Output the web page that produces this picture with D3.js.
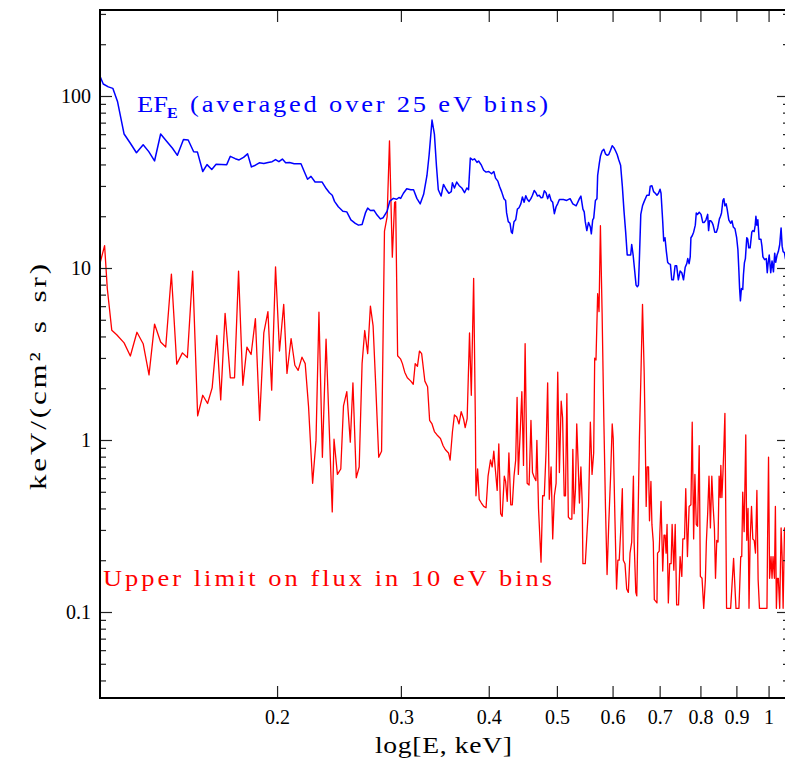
<!DOCTYPE html>
<html><head><meta charset="utf-8">
<script src="https://cdn.jsdelivr.net/npm/d3@7"></script>
<style>body{margin:0;background:#fff}svg{display:block}</style>
</head><body>
<svg id="c" width="785" height="764"></svg>
<script>
// ---- data (energies in eV, fluxes in keV/(cm^2 s sr)) ----
const blueEnergyEV = [112.0,113.2,115.1,116.8,118.6,121.2,123.7,126.2,129.0,131.4,133.9,136.6,139.3,142.0,144.3,147.2,149.5,152.2,154.1,156.8,159.0,161.5,163.8,169.6,171.6,174.4,176.6,179.2,181.6,183.9,186.3,188.7,191.5,194.2,196.8,199.0,201.2,203.5,205.7,208.4,211.5,216.3,218.6,221.0,223.5,226.5,229.7,231.8,234.3,237.4,239.6,241.4,244.4,248.1,251.3,254.7,258.4,261.1,264.2,267.1,269.1,271.5,274.6,277.5,280.6,283.1,286.8,289.3,292.7,295.9,298.1,299.8,302.5,305.8,309.9,312.7,316.1,319.6,323.2,326.7,329.1,332.2,334.8,337.0,339.1,342.2,344.9,347.9,351.0,353.8,355.1,357.5,360.2,362.9,366.2,369.5,372.3,374.4,376.6,379.4,381.9,384.9,386.9,390.5,393.4,396.5,400.0,403.7,406.7,409.0,412.1,414.3,417.2,420.4,422.7,424.1,426.4,428.9,430.7,432.1,434.5,436.9,439.3,441.7,444.3,446.6,449.1,451.6,454.0,456.5,459.2,461.6,464.2,466.8,469.3,471.9,474.7,477.2,479.8,482.5,485.1,487.8,490.6,493.2,495.9,498.7,501.4,504.1,510.8,516.3,522.1,526.8,532.6,538.3,540.9,544.5,546.8,548.7,551.5,554.6,557.9,559.7,562.2,564.1,567.2,570.1,571.4,574.5,576.6,579.8,583.0,586.2,589.3,592.5,596.0,599.3,602.6,606.0,609.1,612.4,616.0,619.5,622.9,626.3,629.5,636.7,638.8,641.8,645.1,648.0,650.7,653.0,655.1,658.1,661.8,665.5,671.3,676.3,678.8,682.5,686.3,690.1,693.9,697.4,700.9,703.2,707.1,709.4,712.4,715.6,718.6,721.1,725.1,728.3,732.3,736.3,740.1,744.2,748.5,752.7,756.9,761.1,765.0,767.5,770.9,773.7,775.5,778.8,782.4,786.7,789.2,792.6,796.8,801.6,806.1,810.2,814.7,819.2,821.7,824.4,827.5,831.2,834.0,838.5,843.1,846.7,851.3,854.4,857.2,861.1,863.9,866.8,870.4,873.2,877.9,883.2,887.2,891.0,895.9,900.8,904.5,907.4,909.5,911.9,914.9,918.9,921.0,923.9,926.9,931.1,934.1,937.1,941.4,946.6,949.7,954.1,957.2,959.4,962.4,965.5,969.5,975.3,978.5,981.7,987.1,992.5,995.7,998.9,1002.1,1007.1,1011.4,1016.1,1020.3,1023.6,1028.2,1032.5,1037.2,1041.9,1045.4,1048.8,1053.2,1056.9,1059.3];
const blueFlux = [130,117.4,113.0,110.8,93.0,60.1,53.1,46.8,52.1,47.5,41.9,60.1,54.6,49.7,45.2,55.9,55.5,47.4,47.2,36.4,39.9,37.4,40.1,39.9,44.6,43.2,42.5,44.0,46.1,38.7,39.6,40.9,40.5,41.0,41.5,42.7,41.5,43.0,40.9,41.1,40.4,40.4,36.4,32.8,34.1,31.6,31.6,31.6,29.4,27.4,26.5,24.4,22.7,21.4,21.2,19.06,18.19,17.75,17.92,20.9,22.3,21.6,21.7,20.3,19.3,19.6,21.4,24.5,25.4,25.1,25.7,25.4,27.2,28.9,28.5,28.5,25.4,23.6,26.8,34.4,45.7,72.5,60.1,39.6,28.5,26.2,30.6,28.7,27.2,27.8,31.3,29.2,31.6,30.2,29.2,27.4,29.2,28.5,43.6,42.5,43.1,41.1,41.9,39.6,37.0,36.1,36.4,35.3,36.4,33.3,32.0,29.9,27.8,25.3,24.7,20.9,18.6,18.19,16.16,15.9,18.6,19.06,22.0,22.4,23.6,25.9,24.1,26.3,25.0,24.4,25.3,26.5,28.2,27.4,26.2,26.5,25.6,25.7,28.1,27.4,25.3,26.8,24.7,24.1,20.7,22.7,23.7,25.0,25.0,24.7,25.3,23.6,23.0,25.3,26.2,22.0,21.2,18.6,16.5,18.4,17.3,15.8,19.06,19.5,24.7,25.3,34.5,40.6,44.6,47.9,49.0,46.1,45.2,45.7,48.4,51.4,50.1,47.9,45.7,42.5,39.6,29.9,21.4,16.16,11.9,11.9,13.7,11.9,9.6,7.95,7.78,7.95,11.34,20.5,23.0,24.4,26.5,26.5,29.9,30.1,27.8,27.2,26.5,27.2,28.7,27.2,18.6,14.36,15.0,12.46,10.8,10.6,10.5,8.54,8.54,10.3,10.3,8.54,9.6,9.38,8.54,10.1,10.6,11.34,10.6,11.6,15.0,15.4,16.16,17.75,20.9,20.5,21.1,20.5,18.4,18.4,19.06,20.5,16.5,18.8,18.8,18.4,17.75,16.16,16.16,17.1,19.3,20.0,20.9,24.7,25.3,23.0,23.6,22.0,19.06,18.2,18.8,17.3,16.9,15.0,12.76,9.6,7.6,6.44,7.6,7.5,9.1,10.7,11.34,15.0,14.7,13.1,13.1,16.16,16.5,16.3,17.75,20.0,17.75,19.06,14.7,14.7,13.4,11.6,11.18,11.34,9.38,10.8,11.9,9.38,11.0,9.5,12.2,10.8,11.9,12.46,13.7,17.1,13.4,12.46,12.3,11.3,15.0];
const redEnergyEV = [112.0,113.7,114.7,116.4,118.3,121.2,123.7,126.4,129.0,131.5,133.9,136.6,138.9,141.5,144.0,146.7,149.1,151.7,154.2,156.8,159.3,161.7,164.2,166.3,168.7,171.6,174.0,176.3,178.8,181.2,183.7,186.3,188.9,191.5,194.1,196.5,199.0,201.6,204.4,206.6,209.4,212.0,214.3,217.0,219.3,221.7,224.7,227.2,229.4,232.0,234.8,239.6,241.0,243.7,246.4,248.6,251.3,254.2,256.4,259.2,261.7,264.2,266.5,269.1,271.5,273.9,276.1,279.0,281.6,284.3,286.8,289.0,291.7,293.9,294.9,296.8,299.8,301.5,303.8,306.4,309.9,312.4,314.4,316.7,318.8,321.1,324.5,327.4,329.6,332.2,334.8,337.7,341.5,344.5,346.9,350.6,352.5,355.2,357.5,360.2,362.9,365.5,368.3,370.3,372.7,375.6,377.8,380.7,382.8,383.6,385.7,387.7,390.5,393.5,396.5,399.1,402.3,404.5,406.7,408.9,411.2,413.4,415.9,418.0,420.9,422.7,425.0,427.3,429.9,432.1,434.5,436.9,438.9,440.7,443.7,445.8,448.2,450.6,453.6,456.5,459.3,461.6,464.2,466.8,468.3,470.8,474.7,477.2,479.8,482.5,485.1,487.7,490.6,493.2,495.9,498.7,501.4,504.1,507.1,509.4,512.1,514.3,516.6,519.1,522.1,525.1,526.8,529.0,531.4,533.6,536.5,538.3,540.9,543.2,544.5,548.7,551.6,554.6,557.9,561.0,564.0,565.9,568.3,571.4,574.0,576.6,579.8,583.0,586.2,589.3,592.5,596.0,599.3,601.3,604.6,607.9,610.5,613.2,616.1,619.5,621.5,624.9,628.4,631.8,635.3,638.8,642.4,643.9,647.4,649.5,652.2,655.1,658.1,661.8,665.5,667.7,669.8,672.0,675.0,677.1,680.3,682.5,685.6,687.9,691.7,693.9,695.2,699.0,703.2,707.1,710.1,712.6,714.9,717.2,720.2,723.4,726.8,729.2,733.3,736.6,740.1,744.7,748.5,752.7,755.2,759.4,762.5,766.7,770.9,775.5,778.8,782.4,785.7,789.2,792.6,796.8,799.8,804.2,808.7,813.1,815.7,819.2,822.8,826.6,830.4,834.0,837.5,840.5,844.0,847.5,850.5,853.6,855.3,858.3,861.1,864.0,866.8,868.7,871.5,883.2,888.1,891.8,894.7,898.8,907.5,912.9,915.9,918.9,923.1,928.1,931.1,935.0,938.0,941.4,945.7,949.7,954.1,958.1,962.5,966.4,970.7,994.8,996.7,999.9,1003.4,1008.1,1011.4,1014.7,1019.4,1022.6,1025.9,1029.2,1032.5,1037.2,1041.9,1045.4,1048.8,1053.6,1056.9];
const redFlux = [10.65,13.5,7.62,4.35,4.09,3.67,3.08,4.23,3.63,2.39,4.72,3.71,3.47,9.22,2.76,3.21,3.02,9.59,1.38,1.82,1.63,2.01,4.05,1.71,5.45,2.30,2.30,9.59,2.08,3.47,3.14,5.08,1.30,4.19,5.58,1.95,10.16,3.29,6.15,2.44,3.89,2.72,2.54,3.03,2.78,1.57,0.560,0.995,5.53,0.794,3.86,0.382,1.01,0.631,0.678,1.58,1.91,0.972,2.15,0.603,0.697,2.78,4.33,3.18,6.00,4.61,2.20,0.794,0.861,16.4,19.9,54.9,11.56,24.0,24.3,3.09,2.95,2.78,2.48,2.30,2.20,2.11,2.78,2.68,3.29,3.18,2.20,2.04,1.30,1.24,1.12,1.07,1.02,0.926,0.880,0.841,0.765,1.12,1.40,1.36,1.24,1.46,1.33,1.18,1.33,4.19,1.82,8.71,1.36,0.474,0.679,0.452,0.430,0.411,0.404,0.616,0.765,0.697,0.861,0.663,0.509,0.949,0.373,0.360,0.616,0.574,0.440,0.841,0.420,0.420,0.616,0.765,1.77,0.631,1.18,1.91,0.712,3.63,0.560,0.547,1.30,0.647,0.607,0.580,0.995,0.400,0.195,0.474,0.474,0.841,2.15,0.452,0.697,0.266,0.474,0.560,2.48,0.647,1.68,1.35,0.474,0.474,1.86,0.356,0.347,0.347,0.883,0.373,0.521,1.24,0.663,0.430,0.697,0.430,0.191,0.191,0.280,0.411,1.27,0.631,0.841,2.99,2.92,7.09,5.58,17.6,5.45,1.36,0.411,0.165,0.323,0.602,1.24,1.02,0.356,0.136,0.200,0.200,0.293,0.521,0.200,0.191,0.136,0.130,0.220,0.255,0.616,0.255,0.130,0.124,0.339,1.02,2.20,6.15,2.42,1.07,0.411,0.697,0.697,0.339,0.574,0.323,0.255,0.118,0.115,0.113,0.220,0.226,0.440,0.173,0.280,0.280,0.220,0.323,0.113,0.191,0.191,0.323,0.175,0.323,0.110,0.110,0.210,0.161,0.266,0.266,0.521,0.210,0.411,0.420,1.27,0.266,0.631,0.323,0.315,0.926,0.161,0.157,0.105,0.154,0.255,0.373,0.616,0.308,0.616,0.411,0.308,0.157,0.261,0.255,0.616,0.463,0.712,0.463,0.631,0.926,1.43,0.521,0.105,0.105,0.154,0.205,0.154,0.105,0.105,0.210,0.210,0.498,0.293,1.07,0.261,0.400,0.105,0.261,0.411,0.266,0.261,0.220,0.509,0.154,0.105,0.105,0.255,0.794,0.157,0.210,0.157,0.210,0.157,0.411,0.105,0.157,0.157,0.105,0.308,0.210,0.105,0.308,0.293];
const xTicks = [0.2,0.3,0.4,0.5,0.6,0.7,0.8,0.9,1];
const xTickLabels = ["0.2","0.3","0.4","0.5","0.6","0.7","0.8","0.9","1"];
const yTicks = [0.1,1,10,100];
const yTickLabels = ["0.1","1","10","100"];
const yMinorTicks = [0.04,0.05,0.06,0.07,0.08,0.09,0.2,0.3,0.4,0.5,0.6,0.7,0.8,0.9,2,3,4,5,6,7,8,9,20,30,40,50,60,70,80,90,200,300];
const xDomain = [0.1120,1.0692];
const yDomain = [0.031623,316.23];

// ---- drawing ----
const M = {left:100,right:789,top:10,bottom:698};
const FONT = "'Liberation Serif', 'DejaVu Serif', serif";
const svg = d3.select("#c");
const x = d3.scaleLog().domain(xDomain).range([M.left,M.right]);
const y = d3.scaleLog().domain(yDomain).range([M.bottom,M.top]);

svg.append("defs").append("clipPath").attr("id","clip")
  .append("rect").attr("x",M.left).attr("y",M.top)
  .attr("width",M.right-M.left).attr("height",M.bottom-M.top);

const blue = blueEnergyEV.map((e,i)=>({E:e/1000,F:blueFlux[i]}));
const red = redEnergyEV.map((e,i)=>({E:e/1000,F:redFlux[i]}));
const line = d3.line().x(d=>x(d.E)).y(d=>y(d.F));
const plot = svg.append("g").attr("clip-path","url(#clip)");
plot.append("path").datum(red).attr("d",line).attr("fill","none")
  .attr("stroke","#ff0000").attr("stroke-width",1.3).attr("stroke-linejoin","round");
plot.append("path").datum(blue).attr("d",line).attr("fill","none")
  .attr("stroke","#0000ff").attr("stroke-width",1.5).attr("stroke-linejoin","round");

function styleAxis(g){
  g.select(".domain").remove();
  g.selectAll(".tick line").attr("stroke","#222").attr("stroke-width",1.2);
  g.selectAll(".tick text").attr("font-family",FONT).attr("font-size",20).attr("fill","#000");
}
svg.append("g").attr("transform",`translate(0,${M.bottom})`)
  .call(d3.axisBottom(x).tickValues(xTicks).tickFormat((d,i)=>xTickLabels[i]).tickSizeInner(-12).tickSizeOuter(0).tickPadding(12))
  .call(styleAxis);
svg.append("g").attr("transform",`translate(0,${M.top})`)
  .call(d3.axisTop(x).tickValues(xTicks).tickFormat("").tickSizeInner(-12).tickSizeOuter(0))
  .call(styleAxis);
svg.append("g").attr("transform",`translate(${M.left},0)`)
  .call(d3.axisLeft(y).tickValues(yTicks).tickFormat((d,i)=>yTickLabels[i]).tickSizeInner(-12).tickSizeOuter(0).tickPadding(9))
  .call(styleAxis);
svg.append("g").attr("transform",`translate(${M.left},0)`)
  .call(d3.axisLeft(y).tickValues(yMinorTicks).tickFormat("").tickSizeInner(-6).tickSizeOuter(0))
  .call(styleAxis);
svg.append("g").attr("transform",`translate(${M.right},0)`)
  .call(d3.axisRight(y).tickValues(yTicks).tickFormat("").tickSizeInner(-12).tickSizeOuter(0))
  .call(styleAxis);
svg.append("g").attr("transform",`translate(${M.right},0)`)
  .call(d3.axisRight(y).tickValues(yMinorTicks).tickFormat("").tickSizeInner(-6).tickSizeOuter(0))
  .call(styleAxis);

svg.append("rect").attr("x",M.left).attr("y",M.top)
  .attr("width",M.right-M.left).attr("height",M.bottom-M.top)
  .attr("fill","none").attr("stroke","#000").attr("stroke-width",2);

// spread a text (or tspan) to a target width (local units) with letter-spacing
function fit(sel, target){
  const n = sel.text().length;
  const w = sel.node().getComputedTextLength();
  sel.attr("letter-spacing", ((target - w) / Math.max(1, n - 1)).toFixed(3));
}
const SX = 1.15;   // wide-glyph look of the original lettering

// axis titles
const xt = svg.append("text").attr("transform",`translate(375,753) scale(${SX},1)`)
  .attr("font-family",FONT).attr("font-size",24).attr("fill","#000").text("log[E, keV]");
fit(xt,137/SX);
const YS = 1.35;
const yt = svg.append("text").attr("transform",`translate(46,490) rotate(-90) scale(${YS},1)`)
  .attr("font-family",FONT).attr("font-size",23).attr("fill","#000")
  .attr("word-spacing",4).text("keV/(cm² s sr)");
fit(yt,226/YS);

// in-plot labels
const lg = svg.append("text").attr("transform",`translate(137,112) scale(${SX},1)`)
  .attr("font-family",FONT).attr("fill","#0000ff");
lg.append("tspan").attr("x",0).attr("font-size",23).text("EF");
lg.append("tspan").attr("font-size",14).attr("font-weight","bold").attr("x",(167-137)/SX).attr("dy",6).text("E");
const rest = lg.append("tspan").attr("font-size",23).attr("x",(190-137)/SX).attr("dy",-6).text("(averaged over 25 eV bins)");
fit(rest,358/SX);
const rl = svg.append("text").attr("transform",`translate(103,586) scale(${SX},1)`)
  .attr("font-family",FONT).attr("font-size",23)
  .attr("fill","#ff0000").text("Upper limit on flux in 10 eV bins");
fit(rl,449/SX);
</script>
</body></html>
